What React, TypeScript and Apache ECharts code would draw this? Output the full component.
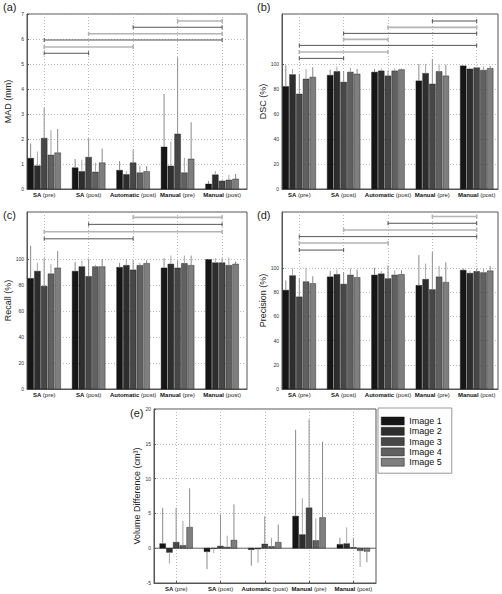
import React, { useEffect, useRef } from 'react';
import * as echarts from 'echarts';

const categories = ['SA (pre)', 'SA (post)', 'Automatic (post)', 'Manual (pre)', 'Manual (post)'];
const imageNames = ['Image 1', 'Image 2', 'Image 3', 'Image 4', 'Image 5'];
const barColors = ['#161616', '#2e2e2e', '#474747', '#606060', '#7e7e7e'];
const errColors = ['#8a8a8a', '#a8a8a8', '#909090', '#a4a4a4', '#888888'];

// rows = categories, columns = Image 1..5
const madMean = [
  [1.23, 0.93, 2.03, 1.36, 1.45],
  [0.85, 0.7, 1.27, 0.68, 1.05],
  [0.75, 0.58, 1.05, 0.65, 0.7],
  [1.68, 0.92, 2.2, 0.65, 1.2],
  [0.2, 0.57, 0.32, 0.36, 0.4],
];
const madErr = [
  [1.82, 1.5, 3.25, 2.35, 2.4],
  [1.2, 1.17, 2.03, 1.05, 1.62],
  [1.12, 0.72, 1.58, 0.93, 0.92],
  [3.8, 1.9, 5.27, 1.25, 2.67],
  [0.32, 0.72, 0.36, 0.56, 0.6],
];
const madBrackets = [[1, 2, 5.43], [1, 3, 5.68], [1, 5, 5.96], [2, 5, 6.21], [3, 5, 6.47], [4, 5, 6.72]];

const dscMean = [
  [82, 91.5, 76, 88, 89.5],
  [91, 94, 85.5, 93.5, 92],
  [93.5, 94.5, 90.5, 94.5, 95.5],
  [86.5, 92.5, 84, 94, 90.5],
  [98.5, 96, 97, 95, 96.5],
];
const dscErr = [
  [99, 96, 92, 96, 97.5],
  [95.5, 98, 94.5, 97, 96],
  [96, 96.5, 95, 96.5, 96.5],
  [100, 100, 104, 99.5, 99.5],
  [99, 97, 97.5, 98, 98.5],
];
const dscBrackets = [[1, 2, 104.5], [1, 3, 109.6], [1, 5, 114.9], [2, 3, 119.7], [2, 5, 124.5], [3, 5, 129.3], [4, 5, 134.4]];

const recallMean = [
  [85, 90.5, 79, 88.5, 93],
  [90.5, 94, 86.5, 94, 94],
  [93.5, 95, 91.5, 95, 96.5],
  [93, 96, 93, 96.5, 95],
  [99.5, 97, 97, 95, 96],
];
const recallErr = [
  [110, 97, 100.5, 96, 106],
  [97.5, 98.5, 100, 95.5, 100],
  [97, 99.5, 99, 97, 99],
  [100.5, 102.5, 98.5, 102.5, 102.5],
  [100, 100.5, 100.5, 101, 98],
];
const recallBrackets = [[1, 3, 115.4], [1, 5, 120.8], [2, 5, 126.5], [3, 5, 131.9]];

const precisionMean = [
  [81.5, 93.5, 76, 88.5, 87],
  [92.5, 94.5, 86.5, 94, 92],
  [94, 95, 91, 94, 94.5],
  [85.5, 90.5, 82, 92.5, 88],
  [98, 95.5, 97, 96, 97.5],
];
const precisionErr = [
  [89.5, 99.5, 91.5, 100, 93],
  [97.5, 98.5, 96.5, 99.5, 98.5],
  [100, 97.5, 102, 98, 98],
  [110.5, 103.5, 113, 101.5, 104.5],
  [99.5, 97.5, 99.5, 99, 101.5],
];
const precisionBrackets = [[1, 2, 114.6], [1, 3, 120.4], [1, 5, 125.7], [2, 5, 131.2], [3, 5, 136.7], [4, 5, 142.3]];

const volumeMean = [
  [0.65, -0.6, 0.85, 0.4, 3.0],
  [-0.5, -0.05, 0.3, 0.15, 1.15],
  [-0.2, -0.1, 0.6, 0.25, 0.85],
  [4.6, 1.95, 5.8, 1.1, 4.4],
  [0.55, 0.65, 0.1, -0.35, -0.45],
];
const volumeErr = [
  [5.8, -2.2, 5.8, 3.9, 8.6],
  [-3.0, -0.7, 4.8, 1.8, 6.3],
  [-2.5, -2.1, 4.6, 1.5, 3.4],
  [17, 7.2, 18.5, 4.3, 15.3],
  [1.5, 3.0, 1.5, -2.7, -2.0],
];

const madTicks = [0, 1, 2, 3, 4, 5, 6, 7];
const pctTicks = [0, 20, 40, 60, 80, 100];
const volumeTicks = [-5, 0, 5, 10, 15, 20];

const STEP = 0.152;
const BW = 0.133;
const FONT = 'Liberation Sans';

const panels = [
  { mean: madMean, err: madErr, br: madBrackets, grid: { left: 27, top: 14, width: 220, height: 175 }, x: [0.614, 5.56], y: [0, 7], ticks: madTicks, title: 'MAD (mm)', tx: 8, label: '(a)', lx: 3, ly: 1 },
  { mean: dscMean, err: dscErr, br: dscBrackets, grid: { left: 282, top: 14, width: 216, height: 175 }, x: [0.61, 5.48], y: [0, 140], ticks: pctTicks, title: 'DSC (%)', tx: 263, label: '(b)', lx: 257, ly: 1 },
  { mean: recallMean, err: recallErr, br: recallBrackets, grid: { left: 27, top: 212, width: 220, height: 177 }, x: [0.614, 5.56], y: [0, 136], ticks: pctTicks, title: 'Recall (%)', tx: 8, label: '(c)', lx: 3, ly: 209 },
  { mean: precisionMean, err: precisionErr, br: precisionBrackets, grid: { left: 282, top: 212, width: 216, height: 177 }, x: [0.61, 5.48], y: [0, 146], ticks: pctTicks, title: 'Precision (%)', tx: 263, label: '(d)', lx: 257, ly: 209 },
  { mean: volumeMean, err: volumeErr, br: [], grid: { left: 154, top: 409, width: 222, height: 174 }, x: [0.5, 5.51], y: [-5, 20], ticks: volumeTicks, title: 'Volume Difference (cm³)', tx: 137, label: '(e)', lx: 130, ly: 407 },
];

function catLabel(v: number) {
  const name = categories[Math.round(v) - 1] || '';
  const i = name.indexOf(' ');
  return '{b|' + name.slice(0, i + 1) + '}{n|' + name.slice(i + 1) + '}';
}

function buildOption() {
  const grids: any[] = [];
  const xAxes: any[] = [];
  const yAxes: any[] = [];
  const series: any[] = [];
  const graphics: any[] = [];

  panels.forEach((p, pi) => {
    grids.push({ ...p.grid, show: true, borderColor: '#555', borderWidth: 1, backgroundColor: 'transparent' });
    xAxes.push({
      type: 'value', gridIndex: pi, min: p.x[0], max: p.x[1],
      axisLine: { show: true, onZero: false, lineStyle: { color: '#555' } },
      axisTick: { show: true, inside: true, length: 2, customValues: [1, 2, 3, 4, 5], lineStyle: { color: '#555' } },
      axisLabel: {
        customValues: [1, 2, 3, 4, 5], formatter: (v: number) => catLabel(v), margin: 3,
        rich: {
          b: { fontFamily: FONT, fontSize: 6, fontWeight: 'bold', color: '#111' },
          n: { fontFamily: FONT, fontSize: 6, color: '#222' },
        },
      },
      splitLine: { show: true, lineStyle: { type: [1, 2], color: '#bbb', width: 1 } },
    });
    yAxes.push({
      type: 'value', gridIndex: pi, min: p.y[0], max: p.y[1],
      axisLine: { show: true, onZero: false, lineStyle: { color: '#555' } },
      axisTick: { show: true, inside: true, length: 2, customValues: p.ticks, lineStyle: { color: '#555' } },
      axisLabel: { customValues: p.ticks, fontFamily: FONT, fontSize: 5, color: '#333', margin: 3 },
      splitLine: { show: true, lineStyle: { type: [1, 2], color: '#bbb', width: 1 } },
    });

    if (pi === 4) {
      series.push({
        type: 'custom', xAxisIndex: pi, yAxisIndex: pi, silent: true, data: [[p.x[0], p.x[1]]],
        renderItem: (params: any, api: any) => {
          const a = api.coord([api.value(0), 0]);
          const b = api.coord([api.value(1), 0]);
          return { type: 'line', shape: { x1: a[0], y1: a[1], x2: b[0], y2: b[1] }, style: { stroke: '#666', lineWidth: 1 } };
        },
      });
    }

    imageNames.forEach((name, k) => {
      series.push({
        type: 'custom', name, xAxisIndex: pi, yAxisIndex: pi,
        itemStyle: { color: barColors[k] },
        encode: { x: 0, y: [1, 2] },
        data: categories.map((_, ci) => [ci + 1, p.mean[ci][k], p.err[ci][k]]),
        renderItem: (params: any, api: any) => {
          const c = api.value(0);
          const v = api.value(1);
          const e = api.value(2);
          const cx = c + (k - 2) * STEP;
          const a = api.coord([cx - BW / 2, 0]);
          const b = api.coord([cx + BW / 2, v]);
          const m = api.coord([cx, v]);
          const en = api.coord([cx, e]);
          return {
            type: 'group',
            children: [
              { type: 'rect', shape: { x: a[0], y: Math.min(a[1], b[1]), width: b[0] - a[0], height: Math.abs(a[1] - b[1]) }, style: { fill: barColors[k], stroke: '#111', lineWidth: 0.4 } },
              { type: 'line', shape: { x1: m[0], y1: m[1], x2: en[0], y2: en[1] }, style: { stroke: errColors[k], lineWidth: 1 } },
            ],
          };
        },
      });
    });

    if (p.br.length) {
      series.push({
        type: 'custom', xAxisIndex: pi, yAxisIndex: pi, silent: true,
        data: p.br.map((b, i) => [b[0], b[1], b[2], i % 2]),
        renderItem: (params: any, api: any) => {
          const p1 = api.coord([api.value(0), api.value(2)]);
          const p2 = api.coord([api.value(1), api.value(2)]);
          const light = api.value(3) === 1;
          const style = { stroke: light ? '#b4b4b4' : '#555', lineWidth: light ? 1.6 : 1 };
          return {
            type: 'group',
            children: [
              { type: 'line', shape: { x1: p1[0], y1: p1[1], x2: p2[0], y2: p2[1] }, style },
              { type: 'line', shape: { x1: p1[0], y1: p1[1] - 2, x2: p1[0], y2: p1[1] + 2 }, style },
              { type: 'line', shape: { x1: p2[0], y1: p2[1] - 2, x2: p2[0], y2: p2[1] + 2 }, style },
            ],
          };
        },
      });
    }

    const cy = p.grid.top + p.grid.height / 2;
    graphics.push({
      type: 'text', x: p.tx, y: cy, rotation: Math.PI / 2,
      style: { text: p.title, fontFamily: FONT, fontSize: 9, fill: '#222', textAlign: 'center', textVerticalAlign: 'middle' },
    });
    graphics.push({
      type: 'text', x: p.lx, y: p.ly,
      style: { text: p.label, fontFamily: FONT, fontSize: 11, fill: '#222', textAlign: 'left', textVerticalAlign: 'top' },
    });
  });

  return {
    animation: false,
    backgroundColor: '#fff',
    grid: grids,
    xAxis: xAxes,
    yAxis: yAxes,
    series,
    graphic: graphics,
    legend: {
      orient: 'vertical', left: 378, top: 408, padding: [8, 10, 6, 3], itemWidth: 23, itemHeight: 8, itemGap: 0.3,
      borderColor: '#999', borderWidth: 1, backgroundColor: '#fff', selectedMode: false,
      textStyle: { fontFamily: FONT, fontSize: 9, lineHeight: 10, color: '#111' },
      itemStyle: { borderColor: '#111', borderWidth: 0.5 },
      data: imageNames.map((n) => ({ name: n, icon: 'rect' })),
    },
  };
}

export default function App() {
  const ref = useRef<HTMLDivElement>(null);
  useEffect(() => {
    const chart = echarts.init(ref.current!, null, { renderer: 'svg' });
    chart.setOption(buildOption() as any);
    return () => chart.dispose();
  }, []);
  return <div ref={ref} style={{ position: 'absolute', left: 0, top: 0, width: 502, height: 594, background: '#fff' }} />;
}
